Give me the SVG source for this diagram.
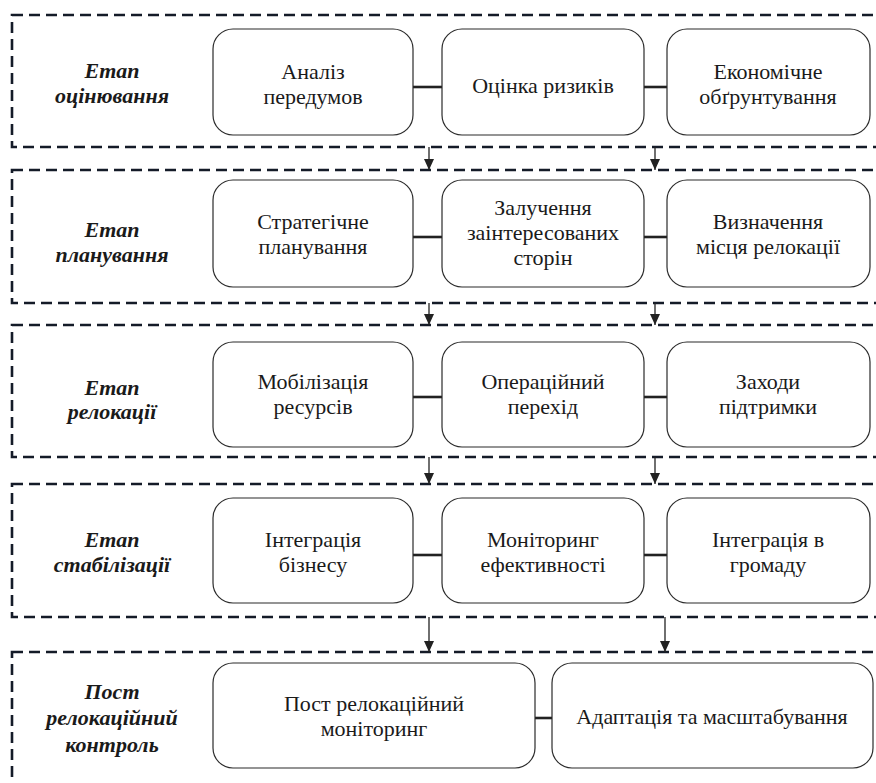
<svg xmlns="http://www.w3.org/2000/svg" width="876" height="783" viewBox="0 0 876 783">
<defs>
<marker id="ah" markerWidth="11" markerHeight="10" refX="11" refY="5" orient="auto" markerUnits="userSpaceOnUse" viewBox="0 0 11 10">
<path d="M0,0 L11,5 L0,10 Z" fill="#222"/>
</marker>
</defs>
<rect width="876" height="783" fill="#fff"/>

<g fill="none" stroke="#141b28" stroke-width="2.6" stroke-dasharray="11 6">
<rect id="stage1-frame" x="12" y="15" width="880" height="132"/>
<rect id="stage2-frame" x="12" y="170" width="880" height="133"/>
<rect id="stage3-frame" x="12" y="325" width="880" height="132"/>
<rect id="stage4-frame" x="12" y="484" width="880" height="133"/>
<rect id="stage5-frame" x="12" y="652" width="880" height="160"/>
</g>

<g font-size="22" font-weight="bold" font-style="italic" fill="#1a1a1a" text-anchor="middle">
<g id="stage1"><text font-family="Liberation Serif" x="112" y="78">Етап</text><text font-family="Liberation Serif" x="112" y="103">оцінювання</text></g>
<g id="stage2"><text font-family="Liberation Serif" x="112" y="237">Етап</text><text font-family="Liberation Serif" x="112" y="262">планування</text></g>
<g id="stage3"><text font-family="Liberation Serif" x="112" y="395">Етап</text><text font-family="Liberation Serif" x="112" y="419">релокації</text></g>
<g id="stage4"><text font-family="Liberation Serif" x="112" y="547">Етап</text><text font-family="Liberation Serif" x="112" y="572">стабілізації</text></g>
<g id="stage5"><text font-family="Liberation Serif" x="112" y="699">Пост</text><text font-family="Liberation Serif" x="112" y="725">релокаційний</text><text font-family="Liberation Serif" x="112" y="752">контроль</text></g>
</g>

<g id="connectors" stroke="#222" fill="none">
<g stroke-width="2.6">
<line x1="413" y1="87" x2="442" y2="87"/>
<line x1="644" y1="87" x2="667" y2="87"/>
<line x1="413" y1="237" x2="442" y2="237"/>
<line x1="644" y1="237" x2="667" y2="237"/>
<line x1="413" y1="397" x2="442" y2="397"/>
<line x1="644" y1="397" x2="667" y2="397"/>
<line x1="413" y1="555" x2="442" y2="555"/>
<line x1="644" y1="555" x2="667" y2="555"/>
<line x1="535" y1="718" x2="552" y2="718"/>
</g>
<g stroke-width="1.3" marker-end="url(#ah)">
<line x1="429" y1="147" x2="429" y2="170"/>
<line x1="655" y1="147" x2="655" y2="170"/>
<line x1="429" y1="303" x2="429" y2="325"/>
<line x1="655" y1="303" x2="655" y2="325"/>
<line x1="429" y1="457" x2="429" y2="484"/>
<line x1="655" y1="457" x2="655" y2="484"/>
<line x1="429" y1="617" x2="429" y2="652"/>
<line x1="665" y1="617" x2="665" y2="652"/>
</g>
</g>

<g font-size="22" fill="#1a1a1a" text-anchor="middle">
<g fill="#fff" stroke="#2b2b2b" stroke-width="1.2">
<rect x="213" y="29" width="200" height="106" rx="20"/>
<rect x="442" y="29" width="202" height="106" rx="20"/>
<rect x="667" y="29" width="203" height="106" rx="20"/>
<rect x="213" y="180" width="200" height="107" rx="20"/>
<rect x="442" y="180" width="202" height="107" rx="20"/>
<rect x="667" y="180" width="203" height="107" rx="20"/>
<rect x="213" y="342" width="200" height="105" rx="20"/>
<rect x="442" y="342" width="202" height="105" rx="20"/>
<rect x="667" y="342" width="203" height="105" rx="20"/>
<rect x="213" y="498" width="200" height="105" rx="20"/>
<rect x="442" y="498" width="202" height="105" rx="20"/>
<rect x="667" y="498" width="203" height="105" rx="20"/>
<rect x="213" y="663" width="322" height="105" rx="20"/>
<rect x="552" y="663" width="321" height="105" rx="20"/>
</g>
<g id="n1a"><text font-family="Liberation Serif" x="313" y="79">Аналіз</text><text font-family="Liberation Serif" x="313" y="104">передумов</text></g>
<g id="n1b"><text font-family="Liberation Serif" x="543" y="93">Оцінка ризиків</text></g>
<g id="n1c"><text font-family="Liberation Serif" x="768" y="79">Економічне</text><text font-family="Liberation Serif" x="768" y="104">обґрунтування</text></g>
<g id="n2a"><text font-family="Liberation Serif" x="313" y="229">Стратегічне</text><text font-family="Liberation Serif" x="313" y="254">планування</text></g>
<g id="n2b"><text font-family="Liberation Serif" x="543" y="215">Залучення</text><text font-family="Liberation Serif" x="543" y="240">заінтересованих</text><text font-family="Liberation Serif" x="543" y="265">сторін</text></g>
<g id="n2c"><text font-family="Liberation Serif" x="768" y="229">Визначення</text><text font-family="Liberation Serif" x="768" y="254">місця релокації</text></g>
<g id="n3a"><text font-family="Liberation Serif" x="313" y="389">Мобілізація</text><text font-family="Liberation Serif" x="313" y="414">ресурсів</text></g>
<g id="n3b"><text font-family="Liberation Serif" x="543" y="389">Операційний</text><text font-family="Liberation Serif" x="543" y="414">перехід</text></g>
<g id="n3c"><text font-family="Liberation Serif" x="768" y="389">Заходи</text><text font-family="Liberation Serif" x="768" y="414">підтримки</text></g>
<g id="n4a"><text font-family="Liberation Serif" x="313" y="547">Інтеграція</text><text font-family="Liberation Serif" x="313" y="572">бізнесу</text></g>
<g id="n4b"><text font-family="Liberation Serif" x="543" y="547">Моніторинг</text><text font-family="Liberation Serif" x="543" y="572">ефективності</text></g>
<g id="n4c"><text font-family="Liberation Serif" x="768" y="547">Інтеграція в</text><text font-family="Liberation Serif" x="768" y="572">громаду</text></g>
<g id="n5a"><text font-family="Liberation Serif" x="374" y="711">Пост релокаційний</text><text font-family="Liberation Serif" x="374" y="736">моніторинг</text></g>
<g id="n5b"><text font-family="Liberation Serif" x="712" y="724">Адаптація та масштабування</text></g>
</g>
</svg>
